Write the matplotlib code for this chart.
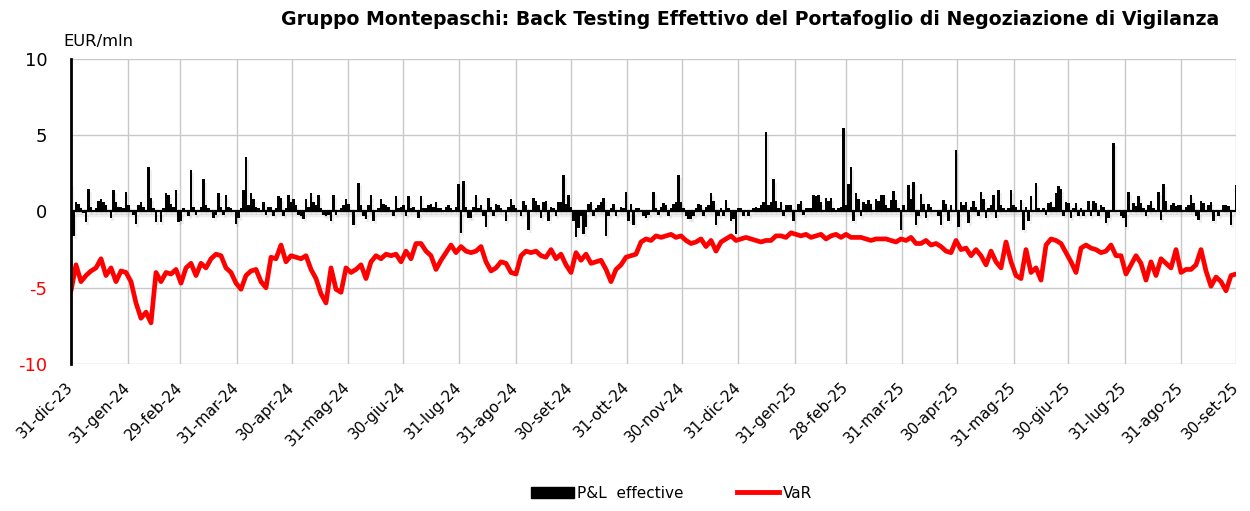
import numpy as np
import pandas as pd
import matplotlib
matplotlib.use("Agg")
import matplotlib.pyplot as plt
from matplotlib.patches import Patch
from matplotlib.lines import Line2D

plt.rcParams['font.family'] = ['DejaVu Sans']

start_date = "2023-12-31"
end_date = "2025-09-30"

tick_labels = ["31-dic-23", "31-gen-24", "29-feb-24", "31-mar-24", "30-apr-24", "31-mag-24",
               "30-giu-24", "31-lug-24", "31-ago-24", "30-set-24", "31-ott-24", "30-nov-24",
               "31-dic-24", "31-gen-25", "28-feb-25", "31-mar-25", "30-apr-25", "31-mag-25",
               "30-giu-25", "31-lug-25", "31-ago-25", "30-set-25"]

# daily P&L effective (EUR mln)
pnl_values = [
    1.8, -1.6, 0.6, 0.5, 0.2, -0.1, -0.7, 1.5, 0.3, 0.1,
    0.2, 0.7, 0.8, 0.6, 0.4, 0.1, -0.4, 1.4, 0.6, 0.3,
    0.3, 0.2, 1.3, 0.4, 0.1, -0.2, -0.8, 0.4, 0.6, 0.3,
    0.1, 2.9, 0.9, 0.2, -0.7, 0.1, -0.7, 0.2, 1.2, 1.1,
    0.5, 0.3, 1.4, -0.7, -0.6, 0.2, 0.1, -0.3, 2.7, 0.3,
    -0.2, 0.1, 0.3, 2.1, 0.4, 0.2, 0.1, -0.4, -0.2, 1.2,
    0.3, -0.2, 1.1, 0.3, 0.2, 0.1, -0.8, -0.4, 0.2, 1.4,
    3.6, 0.4, 1.2, 0.8, 0.3, 0.2, 0.1, 0.6, -0.2, 0.3,
    0.3, -0.3, 0.2, 1.0, 0.9, -0.3, 0.2, 1.1, 0.6, 0.8,
    0.4, -0.2, -0.3, -0.5, 0.8, 0.3, 1.2, 0.6, 0.4, 1.1,
    0.2, -0.2, -0.3, -0.2, -0.6, 1.1, -0.2, 0.1, 0.2, 0.4,
    0.8, 0.5, 0.1, -0.9, 0.1, 1.9, 0.4, -0.3, -0.5, 0.4,
    1.1, -0.6, 0.1, 0.2, 0.8, 0.5, 0.4, 0.3, 0.1, -0.3,
    1.0, 0.2, 0.3, 0.4, -0.3, 1.0, 0.2, 0.3, 0.1, -0.4,
    1.0, 0.2, 0.2, 0.4, 0.5, 0.3, 0.6, 0.2, 0.2, 0.1,
    0.3, 0.4, 0.2, 0.1, 0.3, 1.8, -1.4, 2.0, 0.3, -0.45,
    -0.4, 0.3, 1.1, 0.2, 0.4, -0.3, -1.0, 0.9, 0.3, -0.3,
    0.5, 0.4, 0.2, 0.1, -0.6, 0.3, 0.8, 0.4, 0.2, 0.1,
    -0.3, 0.7, 0.4, -1.2, 0.1, 0.9, 0.7, 0.4, -0.4, 0.6,
    0.7, -0.6, 0.3, 0.2, -0.3, 0.6, 0.6, 2.4, 0.5, 1.1,
    0.3, -0.6, -1.7, -1.1, -0.3, -1.5, -1.0, 0.5, 0.6, -0.3,
    0.2, 0.4, 0.6, 0.9, -1.6, -0.3, 0.2, 0.5, -0.3, 0.1,
    0.3, 0.2, 1.3, -0.6, 0.5, -0.9, 0.2, 0.2, 0.1, -0.3,
    -0.4, -0.2, 0.1, 1.3, 0.2, -0.2, 0.3, 0.55, 0.4, -0.3,
    0.2, 0.5, 0.6, 2.4, 0.6, 0.2, -0.3, -0.5, -0.5, -0.3,
    0.2, 0.5, 0.4, -0.3, 0.3, 0.4, 1.2, 0.7, -0.9, -0.3,
    0.2, -0.3, 0.75, 0.2, -0.6, -0.5, -1.5, 0.2, 0.2, -0.3,
    0.1, -0.3, 0.1, 0.2, 0.3, 0.2, 0.4, 0.6, 5.2, 0.4,
    0.6, 2.1, 0.7, 0.2, 0.6, -0.3, 0.4, 0.4, 0.4, -0.6,
    0.1, 0.5, 0.7, -0.2, 0.2, 0.2, 0.2, 1.1, 1.0, 1.1,
    0.6, 0.1, 0.9, 0.7, 0.9, 0.2, 0.1, 0.2, 0.3, 5.5,
    0.4, 1.8, 2.9, -0.6, 1.2, 0.85, -0.3, 0.6, 0.5, 0.75,
    0.5, 0.1, 0.85, 0.7, 1.1, 1.1, 0.4, 0.2, 0.75, 1.35,
    0.75, 0.2, -1.2, 0.4, 0.1, 1.75, 0.85, 1.95, -0.9, -0.3,
    1.15, 0.5, -0.4, 0.5, 0.3, 0.1, 0.1, -0.3, -0.9, 0.75,
    0.5, -0.65, 0.4, 0.1, 4.0, -1.0, 0.6, 0.4, 0.6, -0.75,
    0.3, 0.7, 0.3, -0.3, 1.3, 0.85, -0.45, 0.2, 0.4, 1.1,
    -0.45, 1.4, 0.4, 0.2, 0.1, 0.2, 1.4, 0.4, 0.3, 0.1,
    0.75, -1.2, 0.3, -0.65, 1.0, 0.1, 1.85, 0.2, 0.1, 0.2,
    -0.2, 0.55, 0.65, 0.3, 1.2, 1.65, 1.5, -0.3, 0.6, 0.55,
    -0.45, 0.2, 0.55, -0.3, 0.2, -0.3, 0.1, 0.7, -0.3, 0.7,
    0.55, -0.3, 0.4, 0.3, -0.75, -0.45, 0.1, 4.5, 0.1, 0.1,
    -0.3, -0.45, -1.0, 1.25, 0.1, 0.55, 0.35, 1.0, 0.55, 0.2,
    -0.3, 0.45, 0.7, 0.2, 0.1, 1.3, -0.55, 1.8, 0.7, 0.1,
    0.45, 0.55, 0.35, 0.45, 0.4, 0.1, 0.3, 0.4, 1.1, 0.55,
    -0.3, -0.55, 0.7, 0.55, 0.1, 0.4, 0.65, -0.65, 0.1, -0.3,
    0.1, 0.45, 0.4, 0.35, -0.9, 0.1, 1.75,
]

# VaR (EUR mln)
var_values = [
    -5.2, -3.5, -4.6, -4.2, -3.9, -3.7, -3.1, -4.2, -3.7, -4.6,
    -3.9, -4.0, -4.6, -6.0, -7.0, -6.6, -7.3, -4.0, -4.6, -4.0,
    -4.1, -3.8, -4.7, -3.7, -3.4, -4.2, -3.4, -3.7, -3.1, -2.8,
    -2.9, -3.7, -4.0, -4.7, -5.1, -4.2, -3.9, -3.8, -4.6, -5.0,
    -3.0, -3.1, -2.2, -3.3, -2.9, -3.0, -3.1, -2.9, -3.8, -4.4,
    -5.4, -6.0, -3.7, -5.1, -5.3, -3.7, -4.0, -3.8, -3.5, -4.4,
    -3.3, -2.9, -3.1, -2.8, -2.9, -2.8, -3.3, -2.6, -3.1, -2.1,
    -2.1, -2.6, -2.9, -3.8, -3.2, -2.7, -2.2, -2.7, -2.3,
    -2.6, -2.7, -2.6, -2.3, -3.3, -3.9, -3.7, -3.3, -3.4, -4.0,
    -4.1, -2.9, -2.6, -2.7, -2.6, -2.9, -3.0, -2.5, -3.1, -2.8,
    -3.5, -4.0, -2.7, -3.2, -2.8, -3.4, -3.3, -3.2, -3.8, -4.6,
    -3.8, -3.5, -3.0, -2.9, -2.8, -2.0, -1.8, -1.9, -1.6,
    -1.7, -1.6, -1.5, -1.7, -1.6, -1.9, -2.1, -2.0, -1.8, -2.3,
    -1.9, -2.6, -2.0, -1.8, -1.6, -1.9, -1.8, -1.7, -1.8, -1.9,
    -2.0, -1.9, -1.9, -1.6, -1.6, -1.7, -1.4, -1.5, -1.6, -1.5,
    -1.7, -1.6, -1.5, -1.8, -1.6, -1.5, -1.7, -1.5, -1.7,
    -1.7, -1.7, -1.8, -1.9, -1.8, -1.8, -1.8, -1.9, -2.0, -1.8,
    -1.9, -1.7, -2.1, -2.1, -1.9, -2.2, -2.1, -2.3, -2.6, -2.7,
    -1.9, -2.5, -2.4, -2.9, -2.5, -2.9, -3.5, -2.6, -3.3, -3.7,
    -2.0, -3.3, -4.2, -4.4, -2.5, -4.0, -3.7, -4.5, -2.2,
    -1.8, -1.9, -2.1, -2.7, -3.3, -4.0, -2.4, -2.2, -2.4, -2.5,
    -2.7, -2.6, -2.2, -2.9, -2.9, -4.1, -3.5, -2.9, -3.4, -4.5,
    -3.3, -4.2, -3.1, -3.4, -3.7, -2.5, -4.0, -3.8, -3.8, -3.5,
    -2.5, -3.9, -4.9, -4.3, -4.6, -5.2, -4.2, -4.1,
]

t0 = pd.Timestamp(start_date)
t1 = pd.Timestamp(end_date)
pnl_dates = pd.to_datetime(np.linspace(t0.value, t1.value, len(pnl_values)))
var_dates = pd.to_datetime(np.linspace(t0.value, t1.value, len(var_values)))
tick_dates = pd.date_range(start_date, end_date, freq="ME")

fig = plt.figure(figsize=(12.5, 5.11), dpi=100)
ax = fig.add_axes([0.0568, 0.2877, 0.932, 0.5969])

# soft shadow under the bars
ax.bar(pnl_dates + pd.Timedelta(days=1.0), pnl_values, bottom=-0.2, width=1.6,
       color="#909090", alpha=0.14, linewidth=0, zorder=2)
ax.axhline(-0.22, color="#909090", alpha=0.14, lw=2.5, zorder=2)
ax.bar(pnl_dates, pnl_values, width=1.25, color="black", linewidth=0, zorder=3)
ax.axhline(0, color="black", lw=1.6, zorder=4)
ax.plot(var_dates, var_values, color="#ff0000", lw=3.4, zorder=5,
        solid_joinstyle="round", solid_capstyle="round")

ax.set_xlim(t0, t1)
ax.set_ylim(-10, 10)
ax.set_yticks([-10, -5, 0, 5, 10])
ax.set_yticklabels(["-10", "-5", "0", "5", "10"])
for lab, v in zip(ax.get_yticklabels(), [-10, -5, 0, 5, 10]):
    lab.set_color("#ff0000" if v < 0 else "black")
ax.tick_params(axis="y", length=0, pad=17, labelsize=13)

ax.set_xticks(tick_dates)
ax.set_xticklabels(tick_labels, rotation=45, ha="right", va="center",
                   rotation_mode="anchor", fontsize=11)
ax.tick_params(axis="x", length=0, pad=15)

ax.grid(True, color="#c8c8c8", lw=1)
ax.set_axisbelow(True)
for s in ["top", "right", "bottom"]:
    ax.spines[s].set_visible(False)
ax.spines["left"].set_color("black")
ax.spines["left"].set_linewidth(2)
ax.spines["left"].set_zorder(6)

fig.text(0.6, 0.961, "Gruppo Montepaschi: Back Testing Effettivo del Portafoglio di Negoziazione di Vigilanza",
         ha="center", va="center", fontsize=13.6, fontweight="bold")
fig.text(0.0504, 0.918, "EUR/mln", ha="left", va="center", fontsize=11.8)

handles = [Patch(facecolor="black", edgecolor="black"),
           Line2D([0], [0], color="#ff0000", lw=3.5)]
fig.legend(handles, ["P&L  effective", "VaR"], loc="center", bbox_to_anchor=(0.537, 0.035),
           ncol=2, frameon=False, fontsize=11, handlelength=2.8, handletextpad=0.2,
           columnspacing=3.5)

fig.savefig("out.png", dpi=100)
